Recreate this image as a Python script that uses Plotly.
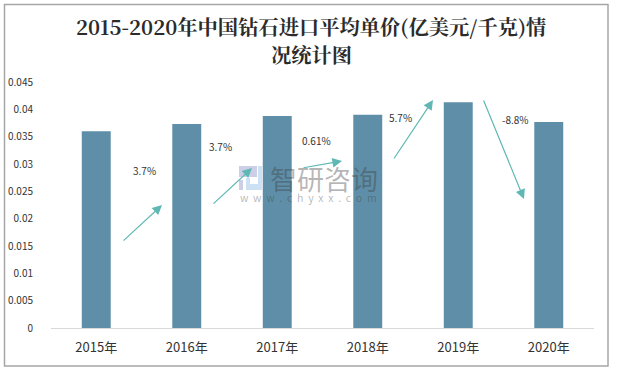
import plotly.graph_objects as go

categories = ["2015年", "2016年", "2017年", "2018年", "2019年", "2020年"]
unit_price = [0.036, 0.0373, 0.0388, 0.039, 0.0413, 0.0377]
tick_values = [0, 0.005, 0.01, 0.015, 0.02, 0.025, 0.03, 0.035, 0.04, 0.045]
tick_labels = ["0", "0.005", "0.01", "0.015", "0.02", "0.025", "0.03", "0.035", "0.04", "0.045"]
growth_labels = ["3.7%", "3.7%", "0.61%", "5.7%", "-8.8%"]

W, H = 617, 370
L, R, T, B = 51, 594, 82, 328
SANS = "Noto Sans CJK SC, Liberation Sans, sans-serif"
SERIF = "Noto Serif CJK SC, Noto Sans CJK SC, serif"
px = lambda x: (x - L) / (R - L)
py = lambda y: (B - y) / (B - T)

fig = go.Figure(go.Bar(x=categories, y=unit_price, marker=dict(color="#5f8fa8", line=dict(width=0)), width=0.32))

annotations = []
for line, y in [("2015-2020年中国钻石进口平均单价(亿美元/千克)情", 27), ("况统计图", 55)]:
    annotations.append(dict(text="<b>" + line + "</b>", x=px(311), y=py(y), xref="paper", yref="paper", showarrow=False,
                            font=dict(family=SERIF, size=20.3, color="#2b2b2b"), yanchor="middle", xanchor="center"))
annotations += [
    dict(text="智研咨询", x=px(324), y=py(178), xref="paper", yref="paper", showarrow=False, xanchor="center", yanchor="middle",
         font=dict(family=SANS, size=27, color="rgba(60,60,60,0.38)")),
    dict(text="\u00a0\u00a0".join("www.chyxx.com"), x=px(308), y=py(197), xref="paper", yref="paper", showarrow=False,
         xanchor="center", yanchor="middle", font=dict(family=SANS, size=10.5, color="rgba(60,60,60,0.38)")),
]
for text, x, y in zip(growth_labels, [144, 220, 316, 400, 515], [170, 146, 140, 117, 119]):
    annotations.append(dict(text=text, x=px(x), y=py(y), xref="paper", yref="paper", showarrow=False,
                            xanchor="center", yanchor="middle", font=dict(family=SANS, size=10, color="#333333")))
arrows = [(122, 242, 162, 205), (212, 205, 252, 168), (302, 168, 342, 161), (393, 160, 433, 100), (483, 99, 524, 199)]
for x0, y0, x1, y1 in arrows:
    annotations.append(dict(x=px(x1), y=py(y1), ax=x0 - x1, ay=y0 - y1, xref="paper", yref="paper", axref="pixel", ayref="pixel",
                            text="", showarrow=True, arrowhead=2, arrowsize=1.6, arrowwidth=1.2, arrowcolor="#5fb8b4"))

PURPLE = "rgba(120,130,190,0.38)"
BLUE = "rgba(120,180,225,0.38)"
logo = [(239, 257, 166, 177, PURPLE), (239, 243, 180, 190, PURPLE), (258, 262, 166, 190, BLUE),
        (246, 258, 184, 190, BLUE), (246, 250, 178, 184, BLUE)]
shapes = [dict(type="rect", xref="paper", yref="paper", x0=px(4.5), x1=px(608), y0=py(4.5), y1=py(366),
               line=dict(color="#a6a6a6", width=1.5))]
for x0, x1, y0, y1, color in logo:
    shapes.append(dict(type="rect", xref="paper", yref="paper", x0=px(x0), x1=px(x1), y0=py(y0), y1=py(y1),
                       fillcolor=color, line_width=0))

fig.update_layout(
    width=W, height=H, margin=dict(l=L, r=W - R, t=T, b=H - B),
    paper_bgcolor="white", plot_bgcolor="white", showlegend=False,
    annotations=annotations, shapes=shapes,
    xaxis=dict(type="category", automargin=False, showline=True, linecolor="#d9d9d9", linewidth=1, ticks="outside", ticklen=7,
               tickcolor="rgba(0,0,0,0)", showgrid=False, tickfont=dict(family=SANS, size=13, color="#333333")),
    yaxis=dict(range=[0, 0.045], automargin=False, tickmode="array", tickvals=tick_values, ticktext=tick_labels, showgrid=False,
               zeroline=False, showline=False, ticks="outside", ticklen=15, tickcolor="rgba(0,0,0,0)",
               tickfont=dict(family=SANS, size=10, color="#333333")),
)
fig.write_html("out.html", config=dict(displayModeBar=False), post_script="document.body.style.margin='0';")
